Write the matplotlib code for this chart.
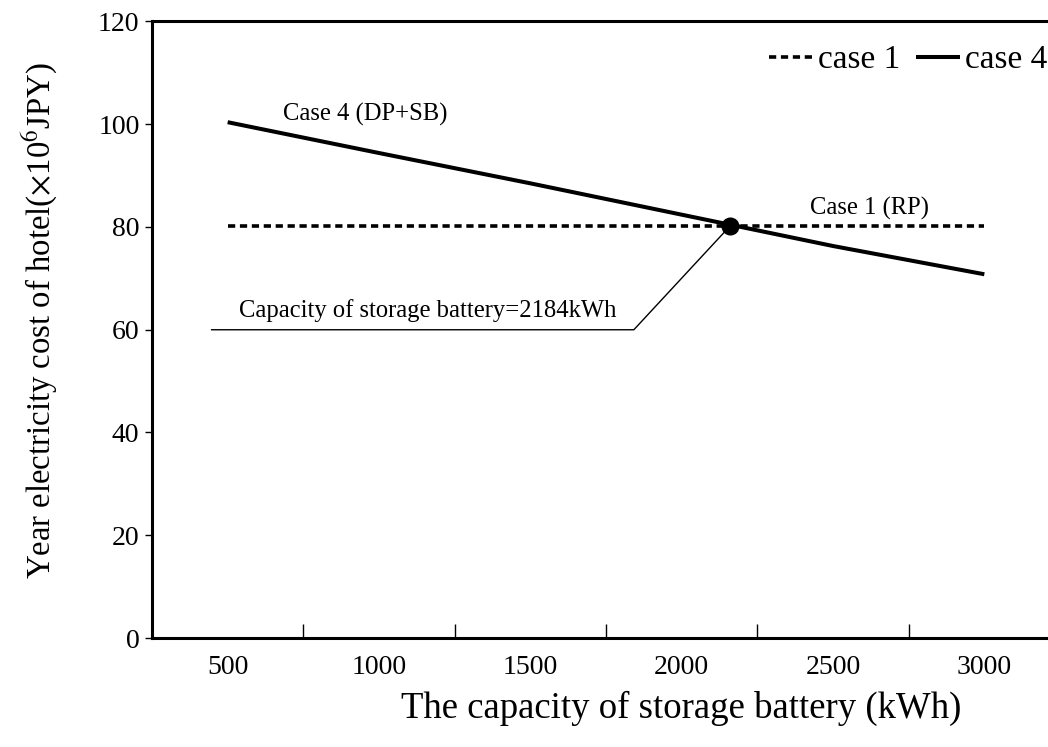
import matplotlib
matplotlib.use("Agg")
import matplotlib.pyplot as plt
from matplotlib.ticker import FixedLocator

plt.rcParams['font.family'] = ['Liberation Serif', 'DejaVu Serif']
plt.rcParams['mathtext.fontset'] = 'stix'

# Data
capacity = [500, 1000, 1500, 2000, 2500, 3000]
case1 = [80.2, 80.2, 80.2, 80.2, 80.2, 80.2]
case4 = [100.4, 94.4, 88.5, 82.4, 76.3, 70.8]
cross_x, cross_y = 2160, 80.2
xtick_labels = ['500', '1000', '1500', '2000', '2500', '3000']
yticks = [0, 20, 40, 60, 80, 100, 120]

fig = plt.figure(figsize=(10.48, 7.47), dpi=100)
ax = fig.add_axes([152/1048, 1-638/747, (1060-152)/1048, (638-21.5)/747])

l1, = ax.plot(capacity, case1, color='black', lw=2.6, linestyle=(0, (2.0, 1.3)),
              dash_capstyle='butt', label='case 1')
l4, = ax.plot(capacity, case4, color='black', lw=2.9, solid_capstyle='butt', label='case 4')
ax.plot([cross_x], [cross_y], 'o', color='black', markersize=12, zorder=5)

# annotation leader
ax.plot([447, 1842, cross_x], [60, 60, cross_y], color='black', lw=1.0)
ax.text(1160, 61.5, 'Capacity of storage battery=2184kWh', ha='center', va='bottom', fontsize=17.7)
ax.text(955, 102, 'Case 4 (DP+SB)', ha='center', va='center', fontsize=17.7)
ax.text(2620, 83.7, 'Case 1 (RP)', ha='center', va='center', fontsize=17.7)

ax.set_xlim(250, 3250)
ax.set_ylim(0, 120)
ax.set_xticks(capacity)
ax.set_xticklabels(xtick_labels)
ax.xaxis.set_minor_locator(FixedLocator([750, 1250, 1750, 2250, 2750]))
ax.tick_params(axis='x', which='major', length=0, pad=12, labelsize=20)
ax.tick_params(axis='x', which='minor', direction='in', length=10, width=1.0)
ax.set_yticks(yticks)
ax.tick_params(axis='y', direction='out', length=5, width=1.0, labelsize=20, pad=4)

for s in ['left', 'bottom', 'top']:
    ax.spines[s].set_linewidth(2.2)
ax.spines['right'].set_visible(False)

ax.set_xlabel('The capacity of storage battery (kWh)', fontsize=26.5)
ax.xaxis.set_label_coords((681-152)/908, -(708-638)/616.5)
ax.xaxis.label.set_va('center')
ax.set_ylabel(r'Year electricity cost of hotel($\times$10$^{6}$JPY)', fontsize=23.6)
ax.yaxis.set_label_coords(-(152-40)/908, (638-320)/616.5)
ax.yaxis.label.set_va('center')

leg = ax.legend(handles=[l1, l4], loc='center right', bbox_to_anchor=(1047/1048, 1-60/747),
                bbox_transform=fig.transFigure, frameon=False, ncol=2, fontsize=24,
                handlelength=1.3, handletextpad=0.15, columnspacing=0.5, borderaxespad=0,
                borderpad=0)

fig.savefig('out.png', dpi=100)
